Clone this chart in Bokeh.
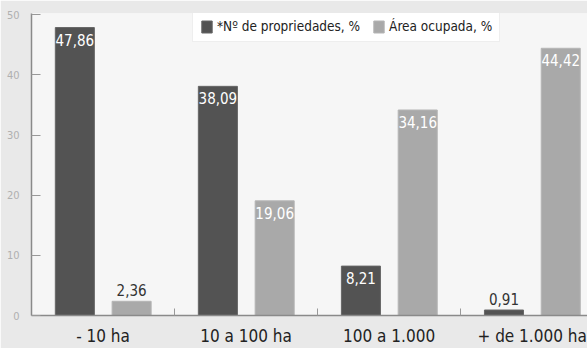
from bokeh.plotting import figure
from bokeh.models import ColumnDataSource, Range1d, FixedTicker, Legend, LegendItem
from bokeh.core.properties import value
from bokeh.embed import file_html
from bokeh.resources import INLINE

categories = ["- 10 ha", "10 a 100 ha", "100 a 1.000", "+ de 1.000 ha"]
propriedades = [47.86, 38.09, 8.21, 0.91]
area = [2.36, 19.06, 34.16, 44.42]
series_names = ["*Nº de propriedades, %", "Área ocupada, %"]
y_ticks = [0, 10, 20, 30, 40, 50]

FONT = "DejaVu Sans Condensed, sans-serif"
DARK = "#535353"
LIGHT = "#a9a9a9"

def fmt(v):
    return f"{v:.2f}".replace(".", ",")

n = len(categories)
centers = [i + 0.5 for i in range(n)]
x_dark = [c - 0.197 for c in centers]
x_light = [c + 0.2 for c in centers]

def label_data(xs, vals):
    d = dict(x=[], y=[], text=[], color=[], base=[])
    for x, v in zip(xs, vals):
        d["x"].append(x)
        d["y"].append(v)
        d["text"].append(fmt(v))
        inside = v >= 5
        d["color"].append("white" if inside else "#333333")
        d["base"].append("top" if inside else "bottom")
    return d

p = figure(width=587, height=348, output_backend="svg", toolbar_location=None,
           x_range=Range1d(0, 3.887), y_range=Range1d(0, 50.2),
           min_border_left=31, min_border_right=0, min_border_top=13, min_border_bottom=30)

p.background_fill_color = "#f6f6f6"
p.border_fill_color = "#e9e9e9"
p.outline_line_color = None
p.xgrid.visible = False
p.ygrid.visible = False

src_d = ColumnDataSource(dict(x=x_dark, top=propriedades))
src_l = ColumnDataSource(dict(x=x_light, top=area))
r1 = p.vbar(x="x", top="top", width=0.273, source=src_d, fill_color=DARK, line_color="#666666", line_width=1)
r2 = p.vbar(x="x", top="top", width=0.273, source=src_l, fill_color=LIGHT, line_color="#b5b5b5", line_width=1)

for xs, vals in ((x_dark, propriedades), (x_light, area)):
    d = label_data(xs, vals)
    ins = {k: [d[k][i] for i in range(n) if d["base"][i] == "top"] for k in d}
    out = {k: [d[k][i] for i in range(n) if d["base"][i] == "bottom"] for k in d}
    if ins["x"]:
        p.text(x="x", y="y", text="text", source=ColumnDataSource(ins), text_color="color",
               text_align="center", text_baseline="top", y_offset=6,
               text_font=value(FONT), text_font_size="15px")
    if out["x"]:
        p.text(x="x", y="y", text="text", source=ColumnDataSource(out), text_color="color",
               text_align="center", text_baseline="bottom", y_offset=-5,
               text_font=value(FONT), text_font_size="15px")

# x axis
xa = p.xaxis[0]
xa.ticker = FixedTicker(ticks=centers, minor_ticks=[1, 2, 3])
xa.major_label_overrides = {c: cat for c, cat in zip(centers, categories)}
xa.major_tick_line_color = None
xa.minor_tick_in = 7
xa.minor_tick_out = 0
xa.minor_tick_line_color = "#999999"
xa.axis_line_color = "#8a8a8a"
xa.axis_line_width = 1.5
xa.major_label_text_font = FONT
xa.major_label_text_font_size = "17px"
xa.major_label_text_color = "#222222"
xa.major_label_standoff = 4

# y axis
ya = p.yaxis[0]
ya.ticker = FixedTicker(ticks=y_ticks)
ya.major_tick_in = 9
ya.major_tick_out = 0
ya.minor_tick_line_color = None
ya.major_tick_line_color = "#999999"
ya.axis_line_color = "#8a8a8a"
ya.axis_line_width = 1.5
ya.major_label_text_font = FONT
ya.major_label_text_font_size = "11px"
ya.major_label_text_color = "#b0b0b0"
ya.major_label_standoff = 12

legend = Legend(items=[LegendItem(label=series_names[0], renderers=[r1]),
                       LegendItem(label=series_names[1], renderers=[r2])],
                orientation="horizontal", location=(161, 273),
                label_text_font=FONT, label_text_font_size="13.5px", label_text_color="#222222",
                glyph_width=13, glyph_height=15, label_standoff=4, spacing=12,
                padding=7, margin=0, background_fill_color="white", background_fill_alpha=1,
                border_line_color="#dddddd")
p.add_layout(legend, "center")

open("out.html", "w").write(file_html(p, INLINE))
